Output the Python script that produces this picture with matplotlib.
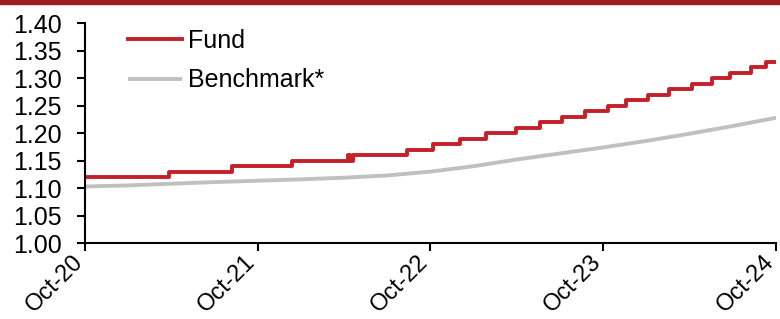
import matplotlib
matplotlib.use("Agg")
import matplotlib.pyplot as plt
import matplotlib.transforms as mtransforms
import pandas as pd

plt.rcParams['font.family'] = ['Liberation Sans', 'DejaVu Sans']

# Fund: step changes (date, new level)
fund_dates = ['2020-10-01', '2021-03-28', '2021-08-08', '2021-12-13', '2022-04-10',
              '2022-04-14', '2022-04-21', '2022-08-13', '2022-10-07', '2022-12-03',
              '2023-01-27', '2023-03-31', '2023-05-21', '2023-07-06', '2023-08-24',
              '2023-10-12', '2023-11-19', '2024-01-04', '2024-02-18', '2024-04-06',
              '2024-05-19', '2024-06-26', '2024-08-09', '2024-09-10', '2024-10-01']
fund_values = [1.12, 1.13, 1.14, 1.15, 1.16,
               1.15, 1.16, 1.17, 1.18, 1.19,
               1.20, 1.21, 1.22, 1.23, 1.24,
               1.25, 1.26, 1.27, 1.28, 1.29,
               1.30, 1.31, 1.32, 1.33, 1.33]

# Benchmark: quarterly readings
bench_dates = ['2020-10-01', '2021-01-01', '2021-04-01', '2021-07-01', '2021-10-01',
               '2022-01-01', '2022-04-01', '2022-07-01', '2022-10-01', '2023-01-01',
               '2023-04-01', '2023-07-01', '2023-10-01', '2024-01-01', '2024-04-01',
               '2024-07-01', '2024-10-01']
bench_values = [1.103, 1.105, 1.108, 1.111, 1.1135,
                1.116, 1.119, 1.123, 1.130, 1.140,
                1.152, 1.163, 1.174, 1.186, 1.199,
                1.213, 1.228]

tick_dates = ['2020-10-01', '2021-10-01', '2022-10-01', '2023-10-01', '2024-10-01']
tick_labels = ['Oct-20', 'Oct-21', 'Oct-22', 'Oct-23', 'Oct-24']

fd = pd.to_datetime(fund_dates)
bd = pd.to_datetime(bench_dates)
td = pd.to_datetime(tick_dates)

fig = plt.figure(figsize=(7.8, 3.19), dpi=100)
ax = fig.add_axes([0.109, 0.238, 0.886, 0.689])

# dark red band at the top of the figure
fig.patches.append(plt.Rectangle((0, 0.987), 1, 0.013, transform=fig.transFigure,
                                 color='#9b1b1e', zorder=0))

ax.plot(bd, bench_values, color='#c0c0c0', lw=2.8, label='Benchmark*', solid_capstyle='butt')
ax.step(fd, fund_values, where='post', color='#c4202a', lw=2.8, label='Fund')

ax.set_xlim(td[0], td[-1])
ax.set_ylim(1.0, 1.40)
ax.set_yticks([1.00, 1.05, 1.10, 1.15, 1.20, 1.25, 1.30, 1.35, 1.40])
ax.yaxis.set_major_formatter(matplotlib.ticker.FormatStrFormatter('%.2f'))
ax.set_xticks(td)
ax.set_xticklabels(tick_labels, rotation=45, ha='right', va='center', rotation_mode='anchor')

for s in ['top', 'right']:
    ax.spines[s].set_visible(False)
for s in ['left', 'bottom']:
    ax.spines[s].set_linewidth(1.5)
ax.tick_params(axis='both', direction='out', length=5.5, width=1.5, labelsize=18)
ax.tick_params(axis='y', pad=11)
ax.tick_params(axis='x', pad=6, labelsize=17)

# nudge the date labels a little left so the last one stays inside the figure
shift = mtransforms.ScaledTranslation(-4 / 72, 0, fig.dpi_scale_trans)
for lab in ax.get_xticklabels():
    lab.set_transform(lab.get_transform() + shift)

h, l = ax.get_legend_handles_labels()
ax.legend(h[::-1], l[::-1], loc='upper left', bbox_to_anchor=(0.062, 0.975), frameon=False,
          borderaxespad=0, borderpad=0,
          fontsize=18, handlelength=2.15, handletextpad=0.25, labelspacing=0.62)

fig.savefig('out.png', dpi=100)
